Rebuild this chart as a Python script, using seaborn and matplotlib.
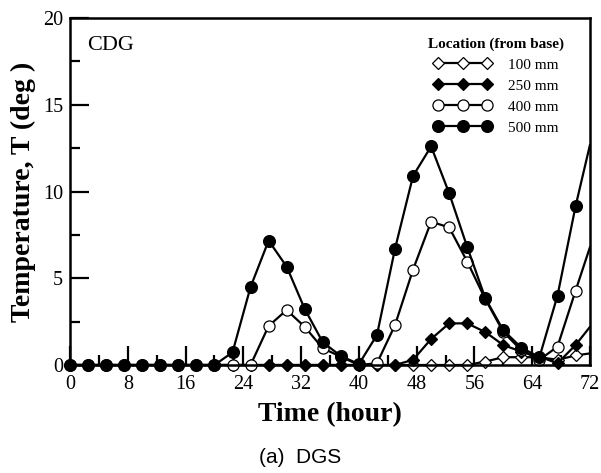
import matplotlib
matplotlib.use("Agg")
import matplotlib.pyplot as plt
import seaborn as sns
from matplotlib.ticker import MultipleLocator

# ---- data ----
time_h = [0, 2.5, 5, 7.5, 10, 12.5, 15, 17.5, 20, 22.5, 25, 27.5, 30, 32.5, 35,
          37.5, 40, 42.5, 45, 47.5, 50, 52.5, 55, 57.5, 60, 62.5, 65, 67.5, 70, 72]

t_100 = [0, 0, 0, 0, 0, 0, 0, 0, 0, 0, 0, 0, 0, 0, 0,
         0, 0, 0, 0, 0, 0, 0, 0, 0.2, 0.45, 0.45, 0.45, 0.3, 0.55, 0.67]
t_250 = [0, 0, 0, 0, 0, 0, 0, 0, 0, 0, 0, 0, 0, 0, 0,
         0, 0, 0, 0, 0.3, 1.5, 2.4, 2.4, 1.9, 1.15, 0.77, 0.48, 0.1, 1.15, 2.2]
t_400 = [0, 0, 0, 0, 0, 0, 0, 0, 0, 0, 0, 2.25, 3.17, 2.2, 0.96,
         0.48, 0, 0.1, 2.3, 5.5, 8.26, 7.93, 5.96, 3.8, 1.9, 0.85, 0.3, 1.06, 4.28, 6.8]
t_500 = [0, 0, 0, 0, 0, 0, 0, 0, 0, 0.73, 4.5, 7.17, 5.67, 3.23, 1.31,
         0.52, 0.05, 1.73, 6.7, 10.9, 12.6, 9.9, 6.8, 3.85, 2.0, 1.0, 0.45, 4.0, 9.15, 12.7]

series_labels = ["100 mm", "250 mm", "400 mm", "500 mm"]
x_ticks = [0, 8, 16, 24, 32, 40, 48, 56, 64, 72]
y_ticks = [0, 5, 10, 15, 20]

# ---- style ----
sns.set_style("ticks")
plt.rcParams["font.family"] = ["Liberation Serif", "DejaVu Serif"]
plt.rcParams["text.color"] = "black"
plt.rcParams["axes.labelcolor"] = "black"
plt.rcParams["xtick.color"] = "black"
plt.rcParams["ytick.color"] = "black"
plt.rcParams["legend.labelcolor"] = "black"

fig = plt.figure(figsize=(6.01, 4.73), dpi=100)
ax = fig.add_axes([0.1165, 0.2283, 0.8652, 0.7336])

styles = [
    dict(marker="D", markersize=6.0, markerfacecolor="white", markeredgewidth=0.9),
    dict(marker="D", markersize=6.5, markerfacecolor="black", markeredgewidth=0.9),
    dict(marker="o", markersize=8.0, markerfacecolor="white", markeredgewidth=0.9),
    dict(marker="o", markersize=8.5, markerfacecolor="black", markeredgewidth=0.9),
]
series = [t_100, t_250, t_400, t_500]
mark_idx = list(range(len(time_h) - 1))
for vals, lab, st in zip(series, series_labels, styles):
    sns.lineplot(x=time_h, y=vals, ax=ax, color="black", linewidth=1.6,
                 markeredgecolor="black", markevery=mark_idx, clip_on=False,
                 label=lab, **st)

ax.set_xlim(0, 72)
ax.set_ylim(0, 20)
ax.set_xticks(x_ticks)
ax.set_yticks(y_ticks)
ax.xaxis.set_minor_locator(MultipleLocator(4))
ax.yaxis.set_minor_locator(MultipleLocator(2.5))
ax.tick_params(which="both", direction="in", top=False, right=False,
               width=1.6, color="black", labelsize=14.5, labelcolor="black")
ax.tick_params(which="major", length=14)
ax.tick_params(which="minor", length=7)
ax.tick_params(axis="x", pad=7)
ax.tick_params(axis="y", pad=5)
for s in ax.spines.values():
    s.set_visible(True)
    s.set_linewidth(1.8)
    s.set_color("black")

ax.set_xlabel("Time (hour)", fontsize=20, fontweight="bold", labelpad=6, color="black")
ax.set_ylabel("Temperature, T (deg )", fontsize=20, fontweight="bold", labelpad=5,
              color="black")

ax.text(2.4, 18.4, "CDG", fontsize=16, va="center", ha="left", color="black")

leg = ax.legend(loc="upper right", bbox_to_anchor=(0.965, 0.967), frameon=False,
                numpoints=3, handlelength=3.8, handletextpad=1.1,
                labelspacing=0.48, borderpad=0, fontsize=11,
                title="Location (from base)",
                title_fontproperties={"weight": "bold", "size": 11})
leg.get_title().set_color("black")
for txt in leg.get_texts():
    txt.set_color("black")

fig.text(0.5, 0.032, "(a)  DGS", ha="center", va="center", fontsize=15,
         family=["Liberation Sans", "DejaVu Sans"], color="black")

fig.savefig("out.png", dpi=100)
